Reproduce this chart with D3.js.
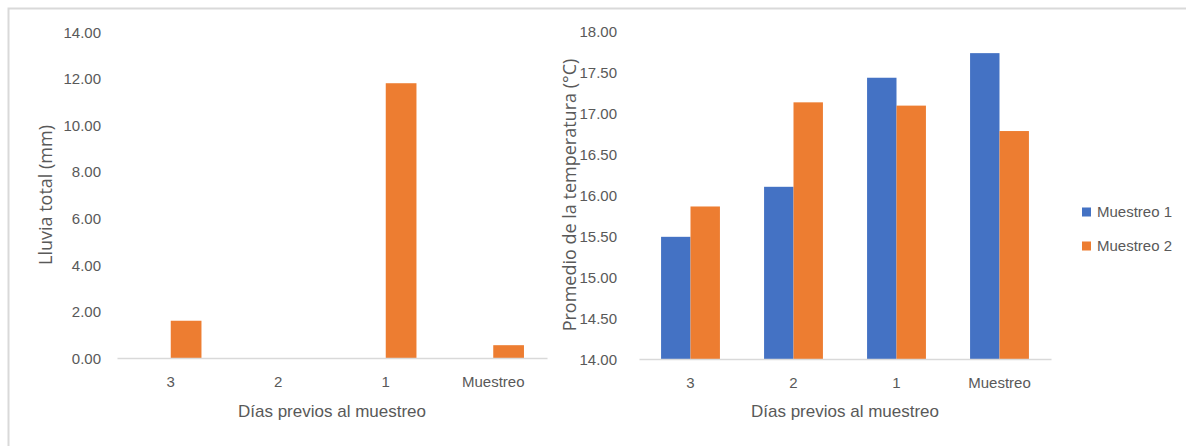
<!DOCTYPE html>
<html>
<head>
<meta charset="utf-8">
<script src="https://cdn.jsdelivr.net/npm/d3@7"></script>
<style>
  html, body { margin: 0; padding: 0; background: #fff; }
  svg { display: block; }
  text { fill: #595959; }
</style>
</head>
<body>
<svg id="chart" width="1186" height="446"></svg>
<script>
// Categories shared by both panels
const categories = ["3", "2", "1", "Muestreo"];
const seriesNames = ["Muestreo 1", "Muestreo 2"];

// Total rainfall (mm); first sampling has no rainfall values
const rainMuestreo1 = [null, null, null, null];
const rainMuestreo2 = [1.6, 0, 11.8, 0.55];

// Mean temperature (°C)
const tempMuestreo1 = [15.49, 16.10, 17.43, 17.73];
const tempMuestreo2 = [15.86, 17.13, 17.09, 16.78];

const rainTicks = [0, 2, 4, 6, 8, 10, 12, 14];
const tempTicks = [14, 14.5, 15, 15.5, 16, 16.5, 17, 17.5, 18];

const colors = ["#4472C4", "#ED7D31"];
const tickFont = "'Liberation Sans', Arial, sans-serif";
const titleFont = "'Open Sans', 'Noto Sans', sans-serif";

const svg = d3.select("#chart");

// outer chart frame (only top and left edges fall inside the view)
svg.append("rect")
  .attr("x", 8.5).attr("y", 8.5)
  .attr("width", 1300).attr("height", 600)
  .attr("fill", "none").attr("stroke", "#d9d9d9").attr("stroke-width", 2);

function panel(opts) {
  const g = svg.append("g");
  const x = d3.scaleBand().domain(categories).range([opts.x0, opts.x1]).paddingInner(0).paddingOuter(0);
  const inner = d3.scaleBand().domain(seriesNames).range([0, x.bandwidth()]).paddingInner(0).paddingOuter(0.75);
  const y = d3.scaleLinear().domain(opts.domain).range([opts.yBase, opts.yTop]);

  const rows = categories.map((c, i) => ({ cat: c, vals: opts.series.map(s => s[i]) }));

  g.selectAll("g.cat").data(rows).join("g")
    .attr("class", "cat")
    .attr("transform", d => `translate(${x(d.cat)},0)`)
    .selectAll("rect")
    .data(d => d.vals.map((v, k) => ({ v, k })).filter(e => e.v != null && e.v > opts.domain[0]))
    .join("rect")
    .attr("x", e => inner(seriesNames[e.k]))
    .attr("width", inner.bandwidth())
    .attr("y", e => y(e.v))
    .attr("height", e => y(opts.domain[0]) - y(e.v))
    .attr("fill", e => colors[e.k]);

  // y axis labels (no axis line)
  const yAxis = d3.axisLeft(y).tickValues(opts.ticks).tickFormat(d3.format(".2f")).tickSize(0).tickPadding(0);
  const ya = g.append("g").attr("transform", `translate(${opts.labelX},0)`).call(yAxis);
  ya.select(".domain").remove();
  ya.selectAll("text").attr("font-family", tickFont).attr("font-size", 15).style("fill", "#595959").attr("dy", "0.35em");

  // x axis baseline and category labels
  const xAxis = d3.axisBottom(x).tickSize(0).tickPadding(0);
  const xa = g.append("g").attr("transform", `translate(0,${opts.yBase})`).call(xAxis);
  xa.select(".domain").attr("stroke", "#d9d9d9").attr("stroke-width", 1.5);
  xa.selectAll("text").attr("font-family", tickFont).attr("font-size", 15).style("fill", "#595959")
    .attr("y", 24).attr("dy", "0.35em");

  g.append("text")
    .attr("x", (opts.x0 + opts.x1) / 2).attr("y", 411).attr("dy", "0.35em")
    .attr("text-anchor", "middle")
    .attr("font-family", tickFont).attr("font-size", 17)
    .text("Días previos al muestreo");

  g.append("text")
    .attr("transform", `translate(${opts.titleX},${opts.titleY}) rotate(-90)`)
    .attr("text-anchor", "middle").attr("dy", "0.35em")
    .attr("font-family", titleFont).attr("font-size", 18)
    .text(opts.yTitle);
}

panel({
  x0: 117, x1: 547, yBase: 358, yTop: 32,
  domain: [0, 14], ticks: rainTicks,
  series: [rainMuestreo1, rainMuestreo2],
  labelX: 101, titleX: 46, titleY: 195,
  yTitle: "Lluvia total (mm)"
});

panel({
  x0: 639, x1: 1051, yBase: 359, yTop: 31,
  domain: [14, 18], ticks: tempTicks,
  series: [tempMuestreo1, tempMuestreo2],
  labelX: 617, titleX: 570, titleY: 195,
  yTitle: "Promedio de la temperatura (°C)"
});

// legend
const legend = svg.append("g").attr("transform", "translate(1082,0)");
seriesNames.forEach((name, i) => {
  const cy = 212 + i * 34;
  legend.append("rect").attr("x", 0).attr("y", cy - 4.5).attr("width", 9).attr("height", 9).attr("fill", colors[i]);
  legend.append("text").attr("x", 15).attr("y", cy).attr("dy", "0.35em")
    .attr("font-family", tickFont).attr("font-size", 15).text(name);
});
</script>
</body>
</html>
